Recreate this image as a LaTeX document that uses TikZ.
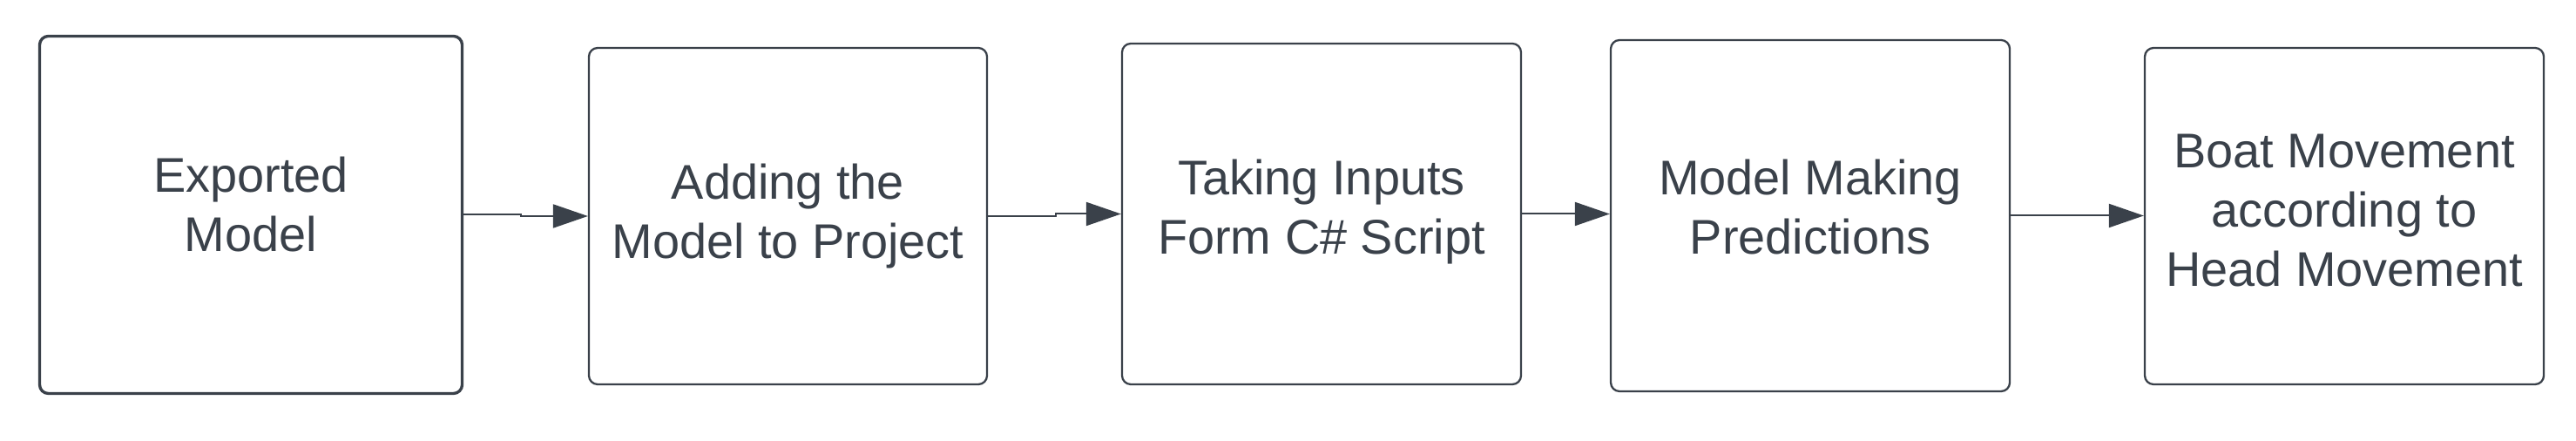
\documentclass[tikz,border=0pt]{standalone}
\usepackage{fontspec}
\setmainfont{Liberation Sans}
\usepackage{xcolor}
\usetikzlibrary{arrows.meta}
\definecolor{lineGray}{RGB}{58,65,74}
\tikzset{
	stagebox/.style={draw=lineGray, line width=0.65pt, rounded corners=0.1cm, fill=white,
		text=lineGray, align=center, inner sep=0pt,
		font=\fontsize{15.9}{19.3}\selectfont},
	flowarrow/.style={draw=lineGray, line width=0.57pt,
		-{Triangle[length=0.4cm, width=0.27cm]}},
}

\begin{document}
\begin{tikzpicture}
			\useasboundingbox (0,0) rectangle (29.57,5.06);
			\node[stagebox, line width=0.95pt, minimum width=4.85cm, minimum height=4.10cm, text depth=0.25cm]
			(exported) at (2.88,2.595) {Exported\\Model};
			\node[stagebox, minimum width=4.57cm, minimum height=3.86cm]
			(adding) at (9.045,2.58) {Adding the\\Model to Project};
			\node[stagebox, minimum width=4.58cm, minimum height=3.91cm, text depth=0.16cm]
			(inputs) at (15.17,2.605) {Taking Inputs\\Form C\# Script};
			\node[stagebox, minimum width=4.58cm, minimum height=4.03cm, text depth=0.21cm]
			(predict) at (20.78,2.585) {Model Making\\Predictions};
			\node[stagebox, minimum width=4.58cm, minimum height=3.86cm, text depth=0.14cm]
			(boat) at (26.91,2.58) {Boat Movement\\according to\\Head Movement};
			\draw[flowarrow] (exported.east) -- ++(0.66,0) |- (adding.west);
			\draw[flowarrow] (adding.east) -- ++(0.78,0) |- (inputs.west);
			\draw[flowarrow] (inputs.east) -- (inputs.east -| predict.west);
			\draw[flowarrow] (predict.east) -- (predict.east -| boat.west);
		\end{tikzpicture}
\end{document}
